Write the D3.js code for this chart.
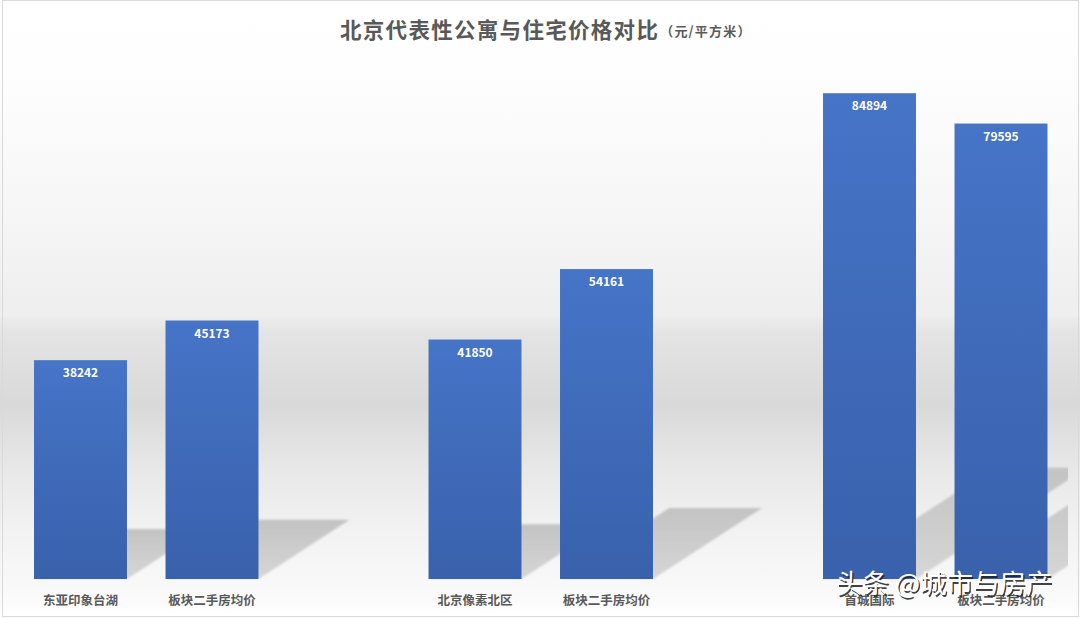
<!DOCTYPE html>
<html>
<head>
<meta charset="utf-8">
<script src="https://cdn.jsdelivr.net/npm/d3@7"></script>
<style>
  html, body { margin: 0; padding: 0; background: #ffffff; }
  svg { display: block; }
  text { font-family: "Noto Sans CJK SC", "Noto Sans", sans-serif; }
</style>
</head>
<body>
<svg id="chart" width="1080" height="618"></svg>
<script>
// ---- data ----
const groups = ["东亚印象台湖", "北京像素北区", "首城国际"];
const seriesNames = ["公寓", "板块二手房均价"];
const apartmentValues = [38242, 41850, 84894];
const residentialValues = [45173, 54161, 79595];
const residentialLabel = "板块二手房均价";
const titleText = "北京代表性公寓与住宅价格对比";
const unitText = "（元/平方米）";
const watermarkText = "头条 @城市与房产";

const bars = [];
groups.forEach((g, i) => {
  bars.push({ group: g, idx: 0, label: g, value: apartmentValues[i] });
  bars.push({ group: g, idx: 1, label: residentialLabel, value: residentialValues[i] });
});

const W = 1080, H = 618;
const svg = d3.select("#chart");
const defs = svg.append("defs");

// background gradient
const bg = defs.append("linearGradient").attr("id", "bgGrad")
  .attr("gradientUnits", "userSpaceOnUse").attr("x1", 0).attr("y1", 0).attr("x2", 0).attr("y2", H);
[[0, "#ffffff"], [70, "#fefefe"], [200, "#f7f7f7"], [315, "#eeeeee"], [332, "#e4e4e4"],
 [405, "#d9d9d9"], [470, "#e8e8e8"], [530, "#f2f2f2"], [590, "#f9f9f9"], [618, "#ffffff"]]
  .forEach(([o, c]) => bg.append("stop").attr("offset", o / H).attr("stop-color", c));

const barGrad = defs.append("linearGradient").attr("id", "barGrad")
  .attr("x1", 0).attr("y1", 0).attr("x2", 0).attr("y2", 1);
barGrad.append("stop").attr("offset", 0).attr("stop-color", "#4674c7");
barGrad.append("stop").attr("offset", 1).attr("stop-color", "#3961ac");

const shGrad = defs.append("linearGradient").attr("id", "shGrad")
  .attr("x1", 0).attr("y1", 0).attr("x2", 0).attr("y2", 1);
shGrad.append("stop").attr("offset", 0).attr("stop-color", "#c3c3c3");
shGrad.append("stop").attr("offset", 1).attr("stop-color", "#d6d6d6");

defs.append("filter").attr("id", "blur").attr("x", "-10%").attr("y", "-10%").attr("width", "120%").attr("height", "120%")
  .append("feGaussianBlur").attr("stdDeviation", 1.2);

defs.append("clipPath").attr("id", "plotClip").append("rect")
  .attr("x", 3).attr("y", 0).attr("width", 1065).attr("height", 580);

svg.append("rect").attr("x", 0).attr("y", 0).attr("width", W).attr("height", H).attr("fill", "url(#bgGrad)");

// ---- scales ----
const x0 = d3.scaleBand().domain(groups).range([14.75, 1066.75]).paddingInner(1 / 3).paddingOuter(0);
const x1 = d3.scaleBand().domain([0, 1]).range([0, x0.bandwidth()]).paddingInner(0.293).paddingOuter(0.1465);
const y = d3.scaleLinear().domain([0, 90000]).range([579, 64]);
const base = y(0);

// ---- shadows ----
const shadowG = svg.append("g").attr("clip-path", "url(#plotClip)");
shadowG.selectAll("path").data(bars).join("path")
  .attr("d", d => {
    const xa = x0(d.group) + x1(d.idx), xb = xa + x1.bandwidth();
    const h = base - y(d.value);
    const dx = h * 0.352, dy = h * 0.229;
    return `M${xa},${base}L${xb},${base}L${xb + dx},${base - dy}L${xa + dx},${base - dy}Z`;
  })
  .attr("fill", "url(#shGrad)")
  .attr("filter", "url(#blur)");

// ---- bars ----
svg.append("g").selectAll("rect").data(bars).join("rect")
  .attr("x", d => x0(d.group) + x1(d.idx))
  .attr("y", d => y(d.value))
  .attr("width", x1.bandwidth())
  .attr("height", d => base - y(d.value))
  .attr("fill", "url(#barGrad)");

// value labels
svg.append("g").selectAll("text").data(bars).join("text")
  .attr("x", d => x0(d.group) + x1(d.idx) + x1.bandwidth() / 2)
  .attr("y", d => y(d.value) + 17)
  .attr("text-anchor", "middle")
  .attr("fill", "#ffffff")
  .attr("font-size", 12)
  .attr("font-weight", "bold")
  .text(d => d.value);

// category labels
svg.append("g").selectAll("text").data(bars).join("text")
  .attr("x", d => x0(d.group) + x1(d.idx) + x1.bandwidth() / 2)
  .attr("y", 605)
  .attr("text-anchor", "middle")
  .attr("fill", "#595959")
  .attr("font-size", 12.5)
  .attr("font-weight", "bold")
  .text(d => d.label);

// title
const title = svg.append("text").attr("x", 340).attr("y", 38)
  .attr("fill", "#595959").attr("font-weight", "bold");
title.append("tspan").attr("font-size", 21.5).attr("letter-spacing", 1.3).text(titleText);
title.append("tspan").attr("font-size", 13).attr("letter-spacing", 1.2).attr("dx", 1).attr("dy", -2).text(unitText);

// border
svg.append("rect").attr("x", 2.5).attr("y", 0.5).attr("width", 1076).attr("height", 616)
  .attr("fill", "none").attr("stroke", "#d9d9d9").attr("stroke-width", 1);

// watermark
const wm = svg.append("g").attr("font-size", 26.5);
wm.append("text").attr("x", 837.5).attr("y", 594.5).attr("fill", "#222").attr("opacity", 0.85).text(watermarkText);
wm.append("text").attr("x", 836).attr("y", 593).attr("fill", "#ffffff").text(watermarkText);
</script>
</body>
</html>
